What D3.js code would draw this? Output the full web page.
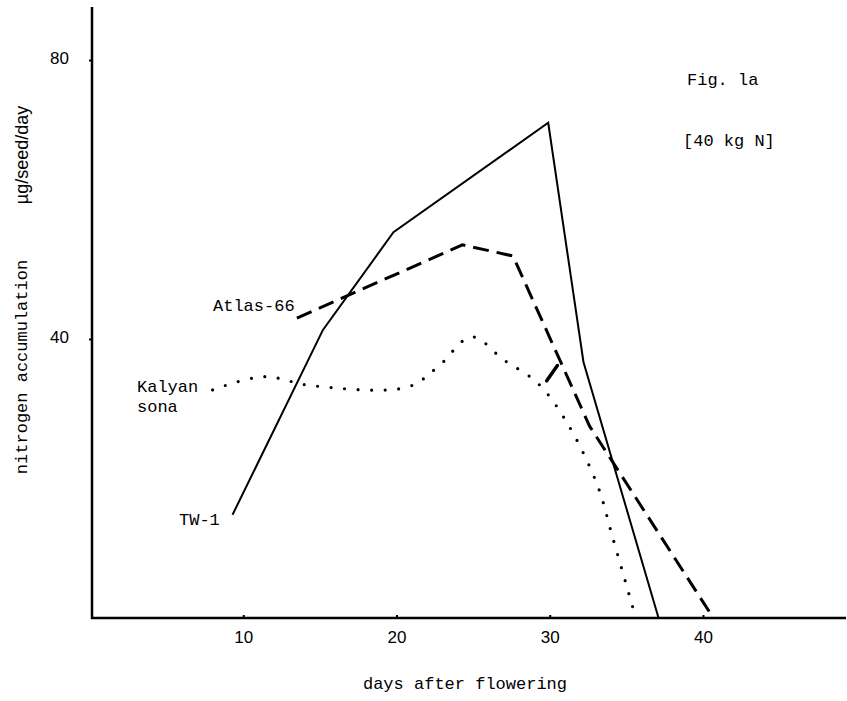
<!DOCTYPE html>
<html><head><meta charset="utf-8">
<script src="https://cdn.jsdelivr.net/npm/d3@7"></script>
<style>body{margin:0;background:#fff}</style>
</head><body>
<script>
// Data (days after flowering, µg/seed/day)
const tw1Days = [9.3, 15.2, 19.8, 29.9, 32.2, 37.1];
const tw1Vals = [14.8, 41.3, 55.3, 71.0, 36.7, 0];
const atlasDays = [13.5, 24.3, 27.6, 32.6, 40.5];
const atlasVals = [43.0, 53.5, 51.9, 27.5, 0.6];
const kalyanDays = [8.0, 11.3, 14.5, 20.7, 22.7, 24.9, 27.0, 29.2, 31.1, 33.1, 34.1, 35.5];
const kalyanVals = [32.7, 34.6, 33.3, 33.1, 36.0, 40.3, 37.0, 33.7, 28.1, 19.1, 11.6, 0.9];
const spurDays = [29.8, 30.5];
const spurVals = [34.0, 36.2];
const xTicks = [10, 20, 30, 40];
const yTicks = [40, 80];

const W = 847, H = 701;
const svg = d3.select("body").append("svg").attr("width", W).attr("height", H)
  .style("background", "#fff");

const x = d3.scaleLinear().domain([0, 40]).range([90, 703]);
const y = d3.scaleLinear().domain([0, 80]).range([618, 60]);

const mono = "'Liberation Mono', 'DejaVu Sans Mono', monospace";
const sans = "'Liberation Sans', Arial, sans-serif";

// axes lines
svg.append("line").attr("x1", 92).attr("x2", 92).attr("y1", 7).attr("y2", y(0) + 1)
  .attr("stroke", "#000").attr("stroke-width", 2.5);
svg.append("line").attr("x1", 91).attr("x2", 846).attr("y1", y(0)).attr("y2", y(0))
  .attr("stroke", "#000").attr("stroke-width", 2.5);

// x axis ticks/labels
const xAxis = d3.axisBottom(x).tickValues(xTicks).tickSize(-3).tickPadding(13)
  .tickFormat(d3.format("d"));
const gx = svg.append("g").attr("transform", `translate(0,${y(0)})`).call(xAxis);
gx.select(".domain").remove();
gx.selectAll(".tick line").attr("stroke", "#000").attr("stroke-width", 2);
gx.selectAll(".tick text").attr("font-family", sans).attr("font-size", 17).attr("fill", "#000");

// y axis ticks/labels
const yAxis = d3.axisLeft(y).tickValues(yTicks).tickSize(3).tickPadding(20)
  .tickFormat(d3.format("d"));
const gy = svg.append("g").attr("transform", `translate(92,0)`).call(yAxis);
gy.select(".domain").remove();
gy.selectAll(".tick line").attr("stroke", "#000").attr("stroke-width", 2);
gy.selectAll(".tick text").attr("font-family", sans).attr("font-size", 17).attr("fill", "#000")
  .attr("dy", "0.2em");

// series
const mk = (xs, ys) => xs.map((d, i) => [d, ys[i]]);
const line = d3.line().x(d => x(d[0])).y(d => y(d[1]));
const kline = d3.line().x(d => x(d[0])).y(d => y(d[1])).curve(d3.curveCatmullRom.alpha(0.5));

svg.append("path").attr("d", line(mk(tw1Days, tw1Vals)))
  .attr("fill", "none").attr("stroke", "#000").attr("stroke-width", 2);

svg.append("path").attr("d", line(mk(atlasDays, atlasVals)))
  .attr("fill", "none").attr("stroke", "#000").attr("stroke-width", 3)
  .attr("stroke-dasharray", "16 8");

svg.append("path").attr("d", kline(mk(kalyanDays, kalyanVals)))
  .attr("fill", "none").attr("stroke", "#000").attr("stroke-width", 3.2)
  .attr("stroke-linecap", "round").attr("stroke-dasharray", "0 13.5");

svg.append("path").attr("d", line(mk(spurDays, spurVals)))
  .attr("fill", "none").attr("stroke", "#000").attr("stroke-width", 3.5)
  .attr("stroke-linecap", "round");

// labels
const txt = (s, xx, yy, opts = {}) => svg.append("text").attr("x", xx).attr("y", yy)
  .attr("font-family", opts.font || mono).attr("font-size", opts.size || 17)
  .attr("fill", "#000").attr("text-anchor", opts.anchor || "start").text(s);

txt("Atlas-66", 213, 311);
txt("Kalyan", 137, 392);
txt("sona", 137, 412);
txt("TW-1", 179, 525);
txt("Fig. la", 687, 85);
txt("[40 kg N]", 683, 146);
txt("days after flowering", 465, 689, {anchor: "middle"});

svg.append("text").attr("transform", "translate(27,367) rotate(-90)")
  .attr("font-family", mono).attr("font-size", 17).attr("text-anchor", "middle")
  .attr("fill", "#000").text("nitrogen accumulation");
svg.append("text").attr("transform", "translate(28,155) rotate(-90)")
  .attr("font-family", sans).attr("font-size", 18).attr("text-anchor", "middle")
  .attr("fill", "#000").text("µg/seed/day");
</script>
</body></html>
